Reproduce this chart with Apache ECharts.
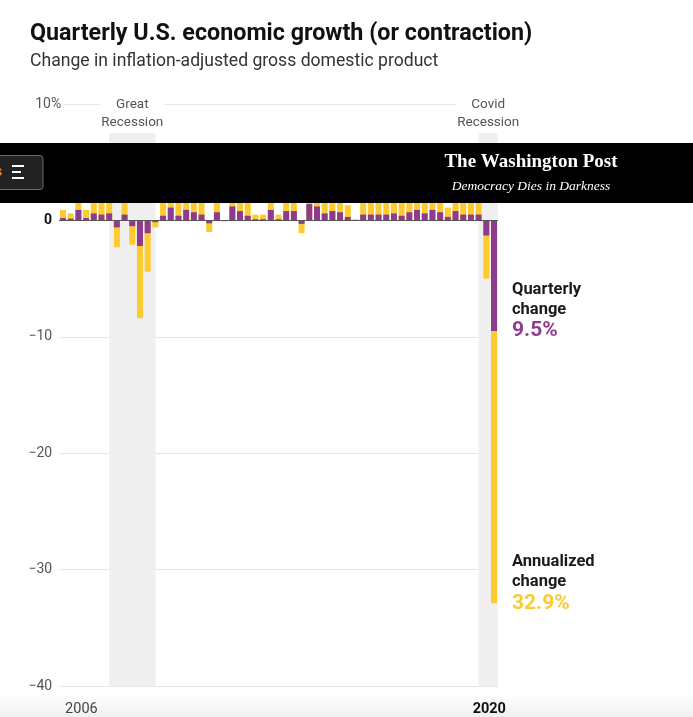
<!DOCTYPE html>
<html>
<head>
<meta charset="utf-8">
<script src="https://cdn.jsdelivr.net/npm/echarts@6/dist/echarts.min.js"></script>
<style>
html,body{margin:0;padding:0;background:#fff;}
#chart{width:693px;height:717px;}
</style>
</head>
<body>
<div id="chart"></div>
<script>
// ---- data ----
const categories = [
  '2006Q2','2006Q3','2006Q4',
  '2007Q1','2007Q2','2007Q3','2007Q4',
  '2008Q1','2008Q2','2008Q3','2008Q4',
  '2009Q1','2009Q2','2009Q3','2009Q4',
  '2010Q1','2010Q2','2010Q3','2010Q4',
  '2011Q1','2011Q2','2011Q3','2011Q4',
  '2012Q1','2012Q2','2012Q3','2012Q4',
  '2013Q1','2013Q2','2013Q3','2013Q4',
  '2014Q1','2014Q2','2014Q3','2014Q4',
  '2015Q1','2015Q2','2015Q3','2015Q4',
  '2016Q1','2016Q2','2016Q3','2016Q4',
  '2017Q1','2017Q2','2017Q3','2017Q4',
  '2018Q1','2018Q2','2018Q3','2018Q4',
  '2019Q1','2019Q2','2019Q3','2019Q4',
  '2020Q1','2020Q2'
];
// annualized change, %
const annualized = [
  0.9, 0.6, 3.5,
  0.9, 2.3, 2.2, 2.5,
  -2.3, 2.1, -2.1, -8.4,
  -4.4, -0.6, 1.5, 4.5,
  1.5, 3.7, 3.0, 2.0,
  -1.0, 2.9, -0.1, 4.7,
  3.2, 1.7, 0.5, 0.5,
  3.6, 0.5, 3.2, 3.2,
  -1.1, 5.5, 5.0, 2.3,
  3.2, 3.0, 1.3, 0.1,
  2.0, 1.9, 2.2, 2.0,
  2.3, 1.7, 2.9, 3.9,
  2.5, 3.5, 2.9, 1.1,
  3.1, 2.0, 2.1, 2.1,
  -5.0, -32.9
];
// quarterly change, %
const quarterly = [
  0.2, 0.15, 0.9,
  0.2, 0.6, 0.5, 0.6,
  -0.6, 0.5, -0.5, -2.2,
  -1.1, -0.15, 0.4, 1.1,
  0.4, 0.9, 0.7, 0.5,
  -0.25, 0.7, 0.0, 1.2,
  0.8, 0.4, 0.1, 0.1,
  0.9, 0.1, 0.8, 0.8,
  -0.3, 1.4, 1.2, 0.6,
  0.8, 0.7, 0.3, 0.03,
  0.5, 0.5, 0.5, 0.5,
  0.6, 0.4, 0.7, 0.9,
  0.6, 0.9, 0.7, 0.3,
  0.8, 0.5, 0.5, 0.5,
  -1.3, -9.5
];
const yTickValues = [10, 0, -10, -20, -30, -40];
const yTickLabels = ['10%', '0', '\u221210', '\u221220', '\u221230', '\u221240'];
const xTickQuarters = ['2006Q4', '2020Q1'];
const xTickLabels = ['2006', '2020'];
const recessions = [
  { label: 'Great\nRecession', peak: '2007Q4', trough: '2009Q2' },
  { label: 'Covid\nRecession', peak: '2019Q4', trough: '2020Q2' }
];

// ---- styles ----
const YELLOW = '#fdca30';
const PURPLE = '#8f3b8d';
const FONT = 'Roboto, "Liberation Sans", sans-serif';

const lastIdx = categories.length - 1;
const recessionAreas = recessions.map(r => {
  const a = categories.indexOf(r.peak);
  let b = categories.indexOf(r.trough);
  if (b === lastIdx) b = lastIdx + 0.5; // ongoing: shade to edge
  return [
    { name: r.label, xAxis: a, yAxis: -40 },
    { xAxis: b, yAxis: 7.5 }
  ];
});

const chart = echarts.init(document.getElementById('chart'), null, { renderer: 'canvas' });

function calloutLabel(title1, title2, color) {
  return {
    show: true,
    position: [18, 11],
    align: 'left',
    verticalAlign: 'bottom',
    formatter: p => '{t|' + title1 + '}\n{t|' + title2 + '}\n{v|' + Math.abs(p.value).toFixed(1) + '%}',
    rich: {
      t: { fontFamily: FONT, fontSize: 16.5, fontWeight: 'bold', color: '#1a1a1a', lineHeight: 20 },
      v: { fontFamily: FONT, fontSize: 21, fontWeight: 'bold', color: color, lineHeight: 22 }
    }
  };
}

const BZ = 100;
const option = {
  animation: false,
  backgroundColor: '#fff',
  textStyle: { fontFamily: FONT },
  title: {
    text: 'Quarterly U.S. economic growth (or contraction)',
    subtext: 'Change in inflation-adjusted gross domestic product',
    left: 30,
    top: 21,
    padding: 0,
    itemGap: 5,
    textStyle: { fontFamily: FONT, fontSize: 23.3, fontWeight: 'bold', color: '#111', lineHeight: 26 },
    subtextStyle: { fontFamily: FONT, fontSize: 17.6, color: '#333', lineHeight: 20 }
  },
  grid: { left: 59.15, right: 195.15, top: 104, bottom: 31 },
  xAxis: [
    {
      type: 'category',
      data: categories,
      axisLine: { show: false },
      axisTick: { show: false },
      splitLine: { show: false },
      axisLabel: {
        margin: 16,
        interval: (i, v) => xTickQuarters.indexOf(v) >= 0,
        formatter: (v) => {
          const k = xTickQuarters.indexOf(v);
          if (k < 0) return '';
          return k === xTickQuarters.length - 1 ? '{b|' + xTickLabels[k] + '}' : '{n|' + xTickLabels[k] + '}';
        },
        padding: [0, 0, 0, 6],
        rich: {
          n: { fontFamily: FONT, fontSize: 14.5, color: '#444' },
          b: { fontFamily: FONT, fontSize: 14.5, color: '#111', fontWeight: 'bold' }
        }
      }
    },
    {
      type: 'value',
      min: -0.5,
      max: categories.length - 0.5,
      show: false
    }
  ],
  yAxis: {
    type: 'value',
    min: -40,
    max: 10,
    interval: 10,
    axisLine: { show: false },
    axisTick: { show: false },
    splitLine: { lineStyle: { color: '#e6e6e6', width: 1 } },
    axisLabel: {
      margin: -4,
      align: 'right',
      formatter: (v) => {
        const k = yTickValues.indexOf(v);
        if (k < 0) return '';
        const t = yTickLabels[k];
        if (v === 10) return '{p|' + t + '}';
        if (v === 0) return '{z|' + t + '}{s| }';
        return '{n|' + t + '}{s| }';
      },
      rich: {
        p: { fontFamily: FONT, fontSize: 14, color: '#555', backgroundColor: '#fff', padding: [0, 2, 0, 0] },
        n: { fontFamily: FONT, fontSize: 14, color: '#555' },
        z: { fontFamily: FONT, fontSize: 14, color: '#111', fontWeight: 'bold' },
        s: { width: 11, fontSize: 14 }
      }
    }
  },
  series: [
    {
      name: 'recessions',
      type: 'line',
      xAxisIndex: 1,
      data: [],
      z: 1,
      markArea: {
        silent: true,
        itemStyle: { color: '#efefef' },
        label: {
          show: true,
          position: 'top',
          distance: 1,
          fontFamily: FONT,
          fontSize: 13.5,
          lineHeight: 18,
          color: '#555',
          backgroundColor: '#fff',
          padding: [0, 1]
        },
        data: recessionAreas
      }
    },
    {
      name: 'Annualized change',
      type: 'bar',
      data: annualized,
      barWidth: 6,
      barGap: '-100%',
      itemStyle: { color: YELLOW },
      z: 2,
      markPoint: {
        symbol: 'circle',
        symbolSize: 0,
        silent: true,
        label: calloutLabel('Annualized', 'change', YELLOW),
        data: [{ coord: [lastIdx, annualized[lastIdx]], value: annualized[lastIdx] }]
      }
    },
    {
      name: 'Quarterly change',
      type: 'bar',
      data: quarterly,
      barWidth: 6,
      barGap: '-100%',
      itemStyle: { color: PURPLE },
      z: 3,
      markLine: {
        silent: true,
        symbol: 'none',
        label: { show: false },
        lineStyle: { color: '#555', width: 1, type: 'solid' },
        data: [{ yAxis: 0 }]
      },
      markPoint: {
        symbol: 'circle',
        symbolSize: 0,
        silent: true,
        label: calloutLabel('Quarterly', 'change', '#923b8e'),
        data: [{ coord: [lastIdx, quarterly[lastIdx]], value: quarterly[lastIdx] }]
      }
    }
  ],
  graphic: [
    {
      type: 'rect', z: -10, silent: true,
      shape: { x: 0, y: 693, width: 693, height: 24 },
      style: {
        fill: new echarts.graphic.LinearGradient(0, 0, 0, 1, [
          { offset: 0, color: 'rgba(0,0,0,0)' },
          { offset: 1, color: 'rgba(0,0,0,0.06)' }
        ])
      }
    },
    { type: 'rect', z: BZ, zlevel: 1, silent: true, shape: { x: 0, y: 143, width: 693, height: 60 }, style: { fill: '#000' } },
    { type: 'rect', z: BZ + 1, zlevel: 1, silent: true, shape: { x: -6, y: 155.5, width: 49, height: 34, r: 3 }, style: { fill: '#222', stroke: '#6a6a6a', lineWidth: 1 } },
    { type: 'text', z: BZ + 2, zlevel: 1, silent: true, style: { x: -5, y: 172, text: 's', fill: '#e8822c', font: 'bold 14px ' + FONT, textVerticalAlign: 'middle' } },
    { type: 'rect', z: BZ + 2, zlevel: 1, silent: true, shape: { x: 12, y: 165, width: 12, height: 2 }, style: { fill: '#fff' } },
    { type: 'rect', z: BZ + 2, zlevel: 1, silent: true, shape: { x: 12, y: 171, width: 9, height: 2 }, style: { fill: '#fff' } },
    { type: 'rect', z: BZ + 2, zlevel: 1, silent: true, shape: { x: 12, y: 177, width: 12, height: 2 }, style: { fill: '#fff' } },
    { type: 'text', z: BZ + 2, zlevel: 1, silent: true, style: { x: 531, y: 162, text: 'The Washington Post', fill: '#fff', font: 'bold 19px "Liberation Serif", serif', textAlign: 'center', textVerticalAlign: 'middle' } },
    { type: 'text', z: BZ + 2, zlevel: 1, silent: true, style: { x: 531, y: 186, text: 'Democracy Dies in Darkness', fill: '#fff', font: 'italic 13.5px "Liberation Serif", serif', textAlign: 'center', textVerticalAlign: 'middle' } }
  ]
};
chart.setOption(option);
</script>
</body>
</html>
